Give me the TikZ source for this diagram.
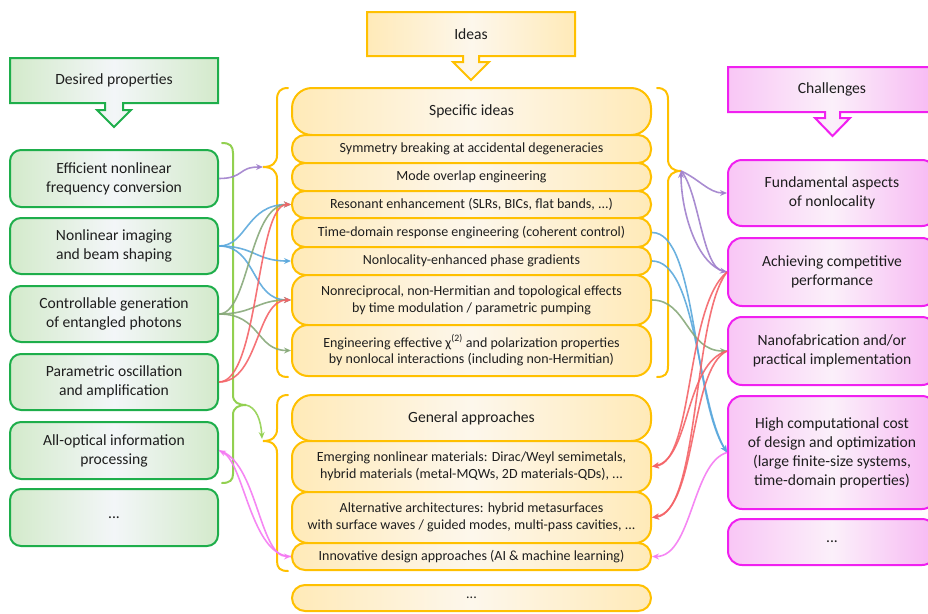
\documentclass[tikz,border=0pt]{standalone}
\usepackage{fontspec}
\setmainfont{Carlito}
\usetikzlibrary{arrows.meta}
\definecolor{gstroke}{HTML}{1EAE4B}
\definecolor{gfill}{HTML}{D3EACB}
\definecolor{gmid}{HTML}{F3F6F8}
\definecolor{ystroke}{HTML}{FFC000}
\definecolor{yfill}{HTML}{FFEAB8}
\definecolor{ymid}{HTML}{FDF7EC}
\definecolor{mstroke}{HTML}{F020F0}
\definecolor{mfill}{HTML}{F7B8F3}
\definecolor{mmid}{HTML}{FBF0FA}
\definecolor{cpurple}{HTML}{A080CC}
\definecolor{cblue}{HTML}{5BA8DC}
\definecolor{colive}{HTML}{88A97A}
\definecolor{cred}{HTML}{F46468}
\definecolor{cpink}{HTML}{F47AF2}
\definecolor{cgreen}{HTML}{92D050}
\definecolor{txt}{HTML}{1E1E1E}
\tikzset{
  bigfont/.style={font=\fontsize{15.6}{19}\selectfont},
  smallfont/.style={font=\fontsize{14}{16.7}\selectfont},
  gbox/.style={draw=gstroke, line width=2pt, rounded corners=11pt,
    left color=gfill, right color=gfill, middle color=gmid,
    minimum width=208pt, inner sep=0pt, align=center, text=txt, bigfont},
  mbox/.style={draw=mstroke, line width=2pt, rounded corners=14pt,
    left color=mfill!80, right color=mfill, middle color=mmid,
    minimum width=208pt, inner sep=0pt, align=center, text=txt, bigfont},
  ybox/.style={draw=ystroke, line width=2pt, rounded corners=13pt,
    left color=yfill, right color=yfill, middle color=ymid,
    minimum width=359pt, inner sep=0pt, align=center, text=txt, smallfont},
  yhead/.style={ybox, rounded corners=20pt, bigfont},
  hdrtext/.style={text=txt, bigfont, inner sep=0pt},
  brace/.style={line width=2pt, line cap=round},
  conn/.style={line width=1.6pt, draw opacity=0.9, -{Stealth[length=7pt,width=6pt]}},
}
\begin{document}
\begin{tikzpicture}[x=1pt,y=-1pt]
\useasboundingbox (0,0) rectangle (928,613);

% ---------- headers ----------
\path[draw=gstroke, line width=2pt, left color=gfill, right color=gfill, middle color=gmid]
  (10,58) -- (218,58) -- (218,103) -- (123,103) -- (123,110) -- (131,110) -- (114,127)
  -- (97,110) -- (105,110) -- (105,103) -- (10,103) -- cycle;
\node[hdrtext] (hdesired) at (114,80.5) {Desired properties};

\path[draw=ystroke, line width=2pt, left color=yfill, right color=yfill, middle color=ymid]
  (367,12) -- (575,12) -- (575,56) -- (479,56) -- (479,62) -- (489,62) -- (471,80)
  -- (453,62) -- (463,62) -- (463,56) -- (367,56) -- cycle;
\node[hdrtext] (hideas) at (471,34) {Ideas};

\path[draw=mstroke, line width=2pt, left color=mfill!80, right color=mfill, middle color=mmid]
  (728,67) -- (936,67) -- (936,112) -- (840,112) -- (840,118) -- (850,118) -- (832.5,136)
  -- (815,118) -- (825,118) -- (825,112) -- (728,112) -- cycle;
\node[hdrtext] (hchall) at (832,89.5) {Challenges};

% ---------- left boxes ----------
\node[gbox, minimum height=57pt] (l1) at (114,178.5) {Efficient nonlinear\\frequency conversion};
\node[gbox, minimum height=56pt] (l2) at (114,246) {Nonlinear imaging\\and beam shaping};
\node[gbox, minimum height=56pt] (l3) at (114,314) {Controllable generation\\of entangled photons};
\node[gbox, minimum height=56pt] (l4) at (114,382) {Parametric oscillation\\and amplification};
\node[gbox, minimum height=57pt] (l5) at (114,450.5) {All-optical information\\processing};
\node[gbox, minimum height=57pt] (l6) at (114,517.5) {...};

% ---------- center boxes ----------
\node[yhead, minimum height=47pt] (spec) at (471.5,111.5) {Specific ideas};
\node[ybox, minimum height=28pt] (sym) at (471.5,149) {Symmetry breaking at accidental degeneracies};
\node[ybox, minimum height=28pt] (mode) at (471.5,177) {Mode overlap engineering};
\node[ybox, minimum height=27pt] (reso) at (471.5,204.5) {Resonant enhancement (SLRs, BICs, flat bands, ...)};
\node[ybox, minimum height=29pt] (time) at (471.5,232.5) {Time-domain response engineering (coherent control)};
\node[ybox, minimum height=28pt] (nloc) at (471.5,261) {Nonlocality-enhanced phase gradients};
\node[ybox, minimum height=50pt, rounded corners=16pt] (nrec) at (471.5,300) {Nonreciprocal, non-Hermitian and topological effects\\by time modulation / parametric pumping};
\node[ybox, minimum height=51pt, rounded corners=16pt] (chi) at (471.5,350.5) {Engineering effective χ\textsuperscript{(2)} and polarization properties\\by nonlocal interactions (including non-Hermitian)};

\node[yhead, minimum height=46pt] (gen) at (471.5,418) {General approaches};
\node[ybox, minimum height=51pt, rounded corners=16pt] (emer) at (471.5,466.5) {Emerging nonlinear materials: Dirac/Weyl semimetals,\\hybrid materials (metal-MQWs, 2D materials-QDs), ...};
\node[ybox, minimum height=51pt, rounded corners=16pt] (alt) at (471.5,517.5) {Alternative architectures: hybrid metasurfaces\\with surface waves / guided modes, multi-pass cavities, ...};
\node[ybox, minimum height=27pt] (innov) at (471.5,556.5) {Innovative design approaches (AI \& machine learning)};
\node[ybox, minimum height=26pt] (dots) at (471.5,598) {...};

% ---------- right boxes ----------
\node[mbox, minimum height=66pt] (r1) at (832,193) {Fundamental aspects\\of nonlocality};
\node[mbox, minimum height=68pt] (r2) at (832,272) {Achieving competitive\\performance};
\node[mbox, minimum height=68pt] (r3) at (832,351) {Nanofabrication and/or\\practical implementation};
\node[mbox, minimum height=113pt] (r4) at (832,452.5) {High computational cost\\of design and optimization\\(large finite-size systems,\\time-domain properties)};
\node[mbox, minimum height=46pt] (r5) at (832,542) {...};

% ---------- braces ----------
\coordinate (gbr) at (246,405);
\coordinate (gtip) at (262,439);
\coordinate (ybl) at (263,167);
\coordinate (ybr) at (681,171);
\coordinate (ygl) at (263,441);

\draw[brace, cgreen] (222,143) .. controls (230,143) and (233,146) .. (233,153) -- (233,395)
  .. controls (233,402) and (238,405) .. (246,405) .. controls (238,405) and (233,408) .. (233,415)
  -- (233,474) .. controls (233,480) and (230,483) .. (222,483);

\draw[brace, ystroke] (288,88) .. controls (280,88) and (277,92) .. (277,100) -- (277,155)
  .. controls (277,163) and (272,167) .. (263,167) .. controls (272,167) and (277,171) .. (277,179)
  -- (277,366) .. controls (277,374) and (280,377) .. (288,377);

\draw[brace, ystroke] (657,88) .. controls (665,88) and (668,92) .. (668,100) -- (668,159)
  .. controls (668,167) and (673,171) .. (681,171) .. controls (673,171) and (668,175) .. (668,183)
  -- (668,366) .. controls (668,374) and (665,377) .. (657,377);

\draw[brace, ystroke] (288,395) .. controls (280,395) and (277,399) .. (277,406) -- (277,429)
  .. controls (277,437) and (272,441) .. (263,441) .. controls (272,441) and (277,445) .. (277,453)
  -- (277,561) .. controls (277,568) and (280,571) .. (288,571);

% ---------- left connectors ----------
\draw[conn, cgreen] (gbr) .. controls (256,407) and (261,420) .. (gtip);
\draw[conn, cpurple] (l1.east) .. controls +(25,0) and +(-25,0) .. (ybl);
\draw[conn, cblue] (l2.east) .. controls +(28,0) and +(-45,0) .. (reso.west);
\draw[conn, cblue] (l2.east) .. controls +(35,0) and +(-35,0) .. (nloc.west);
\draw[conn, cblue] (l2.east) .. controls +(38,0) and +(-40,0) .. (nrec.west);
\draw[conn, colive] (l3.east) .. controls +(30,0) and +(-42,0) .. (reso.west);
\draw[conn, colive] (l3.east) .. controls +(35,0) and +(-35,0) .. (nrec.west);
\draw[conn, colive] (l3.east) .. controls +(42,0) and +(-35,0) .. (chi.west);
\draw[conn, cred] (l4.east) .. controls +(40,0) and +(-35,0) .. (reso.west);
\draw[conn, cred] (l4.east) .. controls +(40,0) and +(-35,0) .. (nrec.west);
\draw[conn, cpink] (l5.east) .. controls +(38,10) and +(-32,0) .. (innov.west);
\draw[conn, cpink] (innov.west) .. controls +(-40,0) and +(25,12) .. (l5.east);

% ---------- right connectors ----------
\draw[conn, cpurple] (ybr) .. controls +(18,8) and +(-18,0) .. (r1.west);
\draw[conn, cpurple] (r2.west) .. controls +(-30,-5) and +(0,40) .. (ybr);
\draw[conn, cpurple] (ybr) .. controls +(18,20) and +(-25,-5) .. (r2.west);
\draw[conn, cblue] (time.east) .. controls +(45,0) and +(-35,-55) .. (r4.west);
\draw[conn, cblue] (nloc.east) .. controls +(45,0) and +(-30,-50) .. (r4.west);
\draw[conn, colive] (nrec.east) .. controls +(35,0) and +(-40,0) .. (r3.west);
\draw[conn, cred] (r2.west) .. controls +(-42,35) and +(42,-5) .. (emer.east);
\draw[conn, cred] (r2.west) .. controls +(-35,45) and +(48,-5) .. (alt.east);
\draw[conn, cred] (r3.west) .. controls +(-42,12) and +(38,-8) .. (emer.east);
\draw[conn, cred] (r3.west) .. controls +(-38,18) and +(45,-8) .. (alt.east);
\draw[conn, cpink] (r4.west) .. controls +(-35,10) and +(40,0) .. (innov.east);
\end{tikzpicture}
\end{document}
